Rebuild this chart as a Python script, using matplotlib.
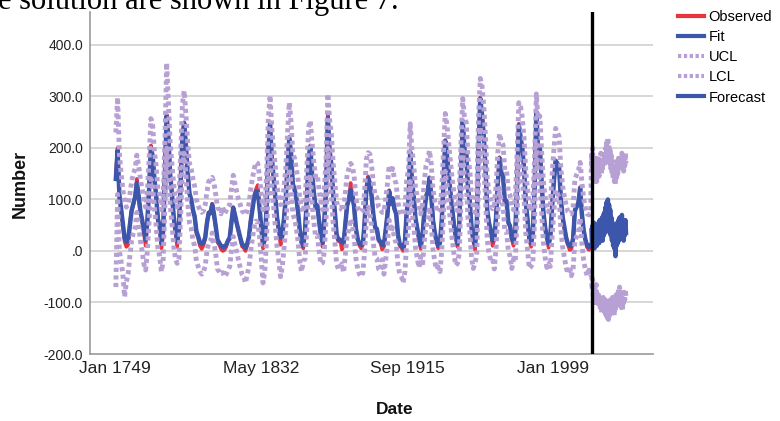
import numpy as np
import matplotlib
matplotlib.use("Agg")
import matplotlib.pyplot as plt
from matplotlib.lines import Line2D
from matplotlib.ticker import FixedLocator, FuncFormatter

# ---------------- data (yearly readings, Jan 1749 = month 0) ----------------
years = list(range(1749, 2021))

observed = [
    150, 200, 100, 80, 50, 18, 8,
    12, 54, 79, 90, 105, 140, 102, 75, 60, 35,
    10, 63, 125, 205, 180, 136, 110, 58, 50, 5,
    33, 160, 265, 215, 141, 113, 64, 38, 8,
    40, 138, 225, 250, 200, 150, 111, 100, 78, 68, 35, 25, 10, 4,
    11, 24, 57, 75, 72, 92, 70, 47, 17, 12, 4, 0,
    2, 8, 20, 23, 59, 85, 68, 53, 38, 24, 9, 6, 0,
    11, 28, 60, 83, 108, 120, 128, 81, 44, 5,
    20, 86, 200, 250, 175, 143, 105, 63, 40, 12,
    25, 66, 103, 170, 222, 185, 126, 122, 103, 74, 39, 13, 5,
    43, 104, 180, 205, 147, 112, 84, 89, 58, 31, 8,
    63, 124, 265, 190, 169, 110, 75, 28, 19, 21, 3,
    10, 54, 90, 99, 132, 106, 86, 42, 22, 11, 5,
    12, 60, 122, 145, 130, 107, 69, 44, 44, 20, 16, 3,
    8, 41, 70, 118, 90, 103, 81, 73, 31, 10, 6, 0,
    16, 79, 95, 195, 135, 106, 63, 43, 24, 4,
    28, 74, 106, 115, 143, 108, 59, 35, 19, 5,
    15, 60, 133, 215, 183, 148, 113, 79, 51, 27, 8,
    55, 154, 253, 193, 191, 119, 98, 45, 20, 2,
    54, 201, 298, 262, 225, 159, 76, 53, 40, 10,
    22, 67, 133, 182, 149, 148, 94, 98, 54, 49, 22, 10,
    39, 131, 247, 219, 199, 162, 91, 60, 21, 8,
    34, 123, 272, 192, 203, 133, 76, 45, 25, 6,
    29, 88, 136, 176, 170, 164, 99, 65, 46, 25, 13, 2,
    3, 25, 81, 85, 94, 124, 70, 40, 22, 7, 2, 9,
]

fit = [
    140, 195, 110, 82, 55, 25, 18,
    20, 50, 78, 92, 105, 132, 108, 78, 60, 40,
    22, 58, 120, 200, 185, 140, 108, 62, 48, 15,
    38, 150, 262, 222, 148, 112, 68, 40, 20,
    42, 130, 222, 248, 205, 152, 112, 100, 80, 66, 38, 28, 16, 14,
    16, 26, 54, 74, 74, 90, 72, 48, 22, 16, 10, 8,
    8, 12, 20, 26, 56, 84, 70, 54, 40, 26, 14, 10, 6,
    14, 28, 58, 82, 105, 115, 114, 85, 46, 15,
    22, 80, 190, 246, 182, 145, 106, 65, 42, 26,
    30, 64, 102, 165, 218, 190, 130, 120, 102, 76, 40, 18, 10,
    40, 100, 176, 203, 150, 114, 85, 88, 58, 32, 16,
    58, 120, 258, 195, 168, 112, 76, 32, 22, 22, 18,
    16, 52, 88, 100, 118, 108, 86, 44, 24, 14, 12,
    14, 56, 120, 141, 132, 106, 70, 46, 42, 22, 18, 12,
    12, 40, 70, 116, 94, 102, 82, 72, 32, 14, 10, 6,
    18, 76, 96, 192, 138, 106, 64, 44, 26, 10,
    28, 72, 104, 116, 142, 110, 60, 36, 20, 10,
    16, 58, 130, 214, 186, 148, 112, 80, 50, 28, 14,
    52, 150, 252, 196, 190, 120, 98, 46, 22, 12,
    50, 196, 296, 265, 224, 160, 78, 54, 40, 20,
    24, 64, 130, 180, 152, 146, 96, 96, 56, 48, 24, 18,
    38, 126, 245, 222, 198, 160, 92, 60, 24, 16,
    34, 120, 270, 196, 202, 134, 76, 46, 26, 14,
    28, 86, 134, 175, 170, 162, 100, 66, 46, 26, 14, 10,
    10, 24, 78, 86, 94, 122, 72, 40, 22, 10, 8, 12,
]

ucl = [
    230, 298, 190, 150, 120, 95, 85,
    90, 110, 135, 150, 160, 186, 165, 140, 120, 100,
    85, 115, 180, 257, 245, 195, 165, 120, 110, 80,
    100, 215, 365, 290, 210, 170, 130, 100, 85,
    105, 190, 285, 311, 265, 210, 170, 160, 140, 125, 100, 88, 80, 75,
    78, 90, 115, 135, 138, 143, 132, 110, 85, 80, 72, 85,
    72, 78, 85, 90, 120, 147, 130, 115, 100, 90, 78, 75, 70,
    78, 92, 120, 142, 160, 172, 170, 145, 110, 80,
    85, 145, 255, 302, 240, 200, 165, 125, 105, 90,
    92, 125, 160, 230, 288, 250, 190, 180, 160, 138, 100, 85, 75,
    100, 160, 240, 253, 210, 172, 145, 148, 118, 95, 80,
    120, 180, 305, 255, 228, 172, 135, 95, 85, 85, 80,
    78, 112, 148, 160, 170, 165, 145, 105, 85, 78, 75,
    78, 118, 178, 191, 188, 165, 130, 108, 104, 85, 80, 75,
    75, 100, 130, 166, 152, 160, 140, 130, 95, 78, 72, 70,
    80, 138, 158, 247, 198, 168, 125, 105, 88, 72,
    90, 132, 165, 175, 195, 170, 120, 98, 82, 75,
    80, 120, 192, 267, 245, 208, 172, 140, 112, 90, 78,
    115, 212, 296, 258, 250, 180, 158, 108, 85, 75,
    112, 258, 335, 320, 282, 220, 140, 115, 100, 82,
    86, 126, 190, 228, 212, 206, 156, 156, 116, 108, 85, 80,
    100, 188, 288, 280, 258, 220, 152, 120, 85, 78,
    96, 182, 305, 256, 262, 194, 136, 106, 88, 76,
    90, 148, 196, 238, 230, 222, 160, 126, 106, 88, 76, 72,
    72, 86, 140, 148, 156, 172, 134, 102, 84, 72, 70, 74,
]

lcl = [
    -70, 110, 0, -20, -45, -89, -60,
    -45, -10, 20, 35, 45, 75, 50, 20, 0, -25,
    -37, 0, 60, 140, 125, 85, 50, 5, -10, -40,
    -20, 90, 200, 160, 90, 55, 10, -15, -24,
    -15, 70, 165, 190, 150, 95, 55, 45, 20, 10, -20, -30, -40, -45,
    -40, -30, 0, 15, 18, 35, 15, -5, -35, -40, -45, -42,
    -50, -45, -38, -30, 0, 28, 12, -2, -18, -32, -45, -50, -62,
    -45, -30, 0, 25, 48, 58, 55, 28, -15, -62,
    -40, 20, 130, 185, 125, 88, 48, 8, -18, -50,
    -30, 5, 45, 105, 160, 130, 72, 62, 45, 18, -20, -40, -20,
    -15, 42, 118, 148, 92, 56, 28, 30, 0, -25, -23,
    0, 62, 200, 138, 110, 55, 18, -25, -35, -35, -25,
    -42, -5, 30, 42, 62, 50, 28, -14, -34, -45, -50,
    -42, 0, 62, 85, 75, 48, 14, -12, -15, -35, -38, -17,
    -45, -18, 12, 60, 38, 45, 25, 15, -25, -45, -50, -62,
    -40, 18, 40, 135, 80, 50, 8, -14, -32, -11,
    -30, 15, 48, 58, 85, 52, 4, -20, -36, -31,
    -40, 0, 72, 155, 128, 90, 55, 22, -6, -28, -24,
    -5, 92, 195, 140, 132, 62, 40, -12, -34, -23,
    -8, 138, 240, 208, 165, 100, 20, -5, -18, -15,
    -35, 5, 72, 122, 95, 88, 38, 38, 0, -10, -34, -15,
    -20, 68, 185, 164, 140, 102, 34, 2, -34, -30,
    -24, 62, 212, 138, 144, 76, 18, -12, -32, -25,
    -30, 28, 76, 118, 112, 104, 42, 8, -12, -32, -44, -30,
    -48, -34, 20, 28, 36, 64, 14, -18, -36, -48, -37, -46,
]

# forecast period: Jan 2021 onward, one reading every 4 months
forecast_start_month = 3264
forecast_step_months = 4
forecast = [
    40, 10, 50, 15, 55, 5, 45, 20, 50, 10, 45, 20,
    55, 15, 60, 20, 55, 25, 65, 20, 70, 30, 75, 35,
    85, 40, 95, 45, 100, 40, 90, 35, 80, 30, 65, 20,
    55, 10, 45, 5, 50, -10, 40, 10, 55, 15, 60, 20,
    65, 25, 60, 30, 70, 25, 60, 20, 55, 30, 60, 35,
]
ucl_forecast = [
    190, 160, 200, 150, 175, 130, 165, 140, 180, 135, 170, 150,
    185, 145, 175, 155, 190, 150, 180, 160, 195, 165, 185, 170,
    200, 175, 215, 180, 220, 175, 205, 170, 195, 160, 185, 150,
    175, 140, 170, 135, 165, 130, 160, 140, 175, 150, 180, 155,
    185, 160, 175, 165, 190, 160, 180, 155, 175, 165, 190, 170,
]
lcl_forecast = [
    -40, -75, -55, -90, -60, -100, -70, -95, -65, -105, -80, -100,
    -85, -110, -90, -115, -95, -120, -100, -110, -90, -115, -100, -120,
    -95, -125, -105, -130, -110, -133, -100, -125, -95, -120, -105, -115,
    -90, -120, -100, -125, -95, -115, -85, -110, -80, -105, -75, -100,
    -70, -95, -80, -110, -85, -115, -90, -105, -80, -95, -75, -90,
]

tick_months = [0, 1000, 2000, 3000]
tick_labels = ["Jan 1749", "May 1832", "Sep 1915", "Jan 1999"]
y_ticks = [-200, -100, 0, 100, 200, 300, 400]

assert len(observed) == len(years) == len(fit) == len(ucl) == len(lcl)

# ---------------- styling ----------------
RED = "#e8323c"
BLUE = "#3c56ac"
PURPLE = "#b7a0d3"
GRID = "#cdcdcd"
AXIS = "#9a9a9a"
plt.rcParams["font.family"] = ["Liberation Sans", "DejaVu Sans"]

W, H = 780, 421
fig = plt.figure(figsize=(W / 100, H / 100), dpi=100)
ax = fig.add_axes([90 / W, (H - 354) / H, (653 - 90) / W, (354 - 12) / H])

x_hist = (np.array(years) - 1749) * 12 + 6
x_fc = forecast_start_month + forecast_step_months * np.arange(len(forecast))

dot = (0, (0.85, 0.7))
ax.plot(x_hist, observed, color=RED, lw=2.6, zorder=3)
ax.plot(x_hist, fit, color=BLUE, lw=3.2, zorder=4)
ax.plot(x_fc, forecast, color=BLUE, lw=3.2, zorder=4)
ax.plot(np.concatenate([x_hist, x_fc]), ucl + ucl_forecast, color=PURPLE, lw=3.5,
        linestyle=dot, dash_capstyle="butt", zorder=5)
ax.plot(np.concatenate([x_hist, x_fc]), lcl + lcl_forecast, color=PURPLE, lw=3.5,
        linestyle=dot, dash_capstyle="butt", zorder=5)
ax.axvline(forecast_start_month, color="black", lw=2.4, zorder=6)

ax.set_xlim(-171, 3685)
ax.set_ylim(-200, 464)

ax.xaxis.set_major_locator(FixedLocator(tick_months))
ax.set_xticklabels(tick_labels)
ax.yaxis.set_major_locator(FixedLocator(y_ticks))
ax.yaxis.set_major_formatter(FuncFormatter(lambda v, p: ".0" if v == 0 else f"{v:.1f}"))
ax.tick_params(axis="both", length=0, labelcolor="#222222")
ax.tick_params(axis="y", pad=5, labelsize=10)
ax.tick_params(axis="x", pad=5, labelsize=12.5)

for v in y_ticks[1:]:
    ax.axhline(v, color=GRID, lw=1.1, zorder=1)

for s in ["top", "right"]:
    ax.spines[s].set_visible(False)
for s in ["left", "bottom"]:
    ax.spines[s].set_color(AXIS)
    ax.spines[s].set_linewidth(1.2)

fig.text(20 / W, 1 - 184 / H, "Number", rotation=90, ha="center", va="center",
         fontsize=13, fontweight="bold", color="#111111")
fig.text(395 / W, 1 - 409 / H, "Date", ha="center", va="center",
         fontsize=12.5, fontweight="bold", color="#111111")

# fragment of surrounding document text at the top
fig.text(-2 / W, 1 - 9 / H, "e solution are shown in Figure 7.", ha="left", va="baseline",
         fontsize=22, family=["Liberation Serif", "DejaVu Serif"], color="black")

handles = [
    Line2D([], [], color=RED, lw=3),
    Line2D([], [], color=BLUE, lw=3),
    Line2D([], [], color=PURPLE, lw=3, linestyle=(0, (0.8, 0.6)), dash_capstyle="butt"),
    Line2D([], [], color=PURPLE, lw=3, linestyle=(0, (0.8, 0.6)), dash_capstyle="butt"),
    Line2D([], [], color=BLUE, lw=3),
]
fig.legend(handles, ["Observed", "Fit", "UCL", "LCL", "Forecast"], loc="upper left",
           bbox_to_anchor=(678 / W, 1 - 10 / H), frameon=False, fontsize=10.5,
           handlelength=1.8, handletextpad=0.3, labelspacing=0.42, borderpad=0,
           borderaxespad=0)

fig.savefig("out.png", dpi=100)
